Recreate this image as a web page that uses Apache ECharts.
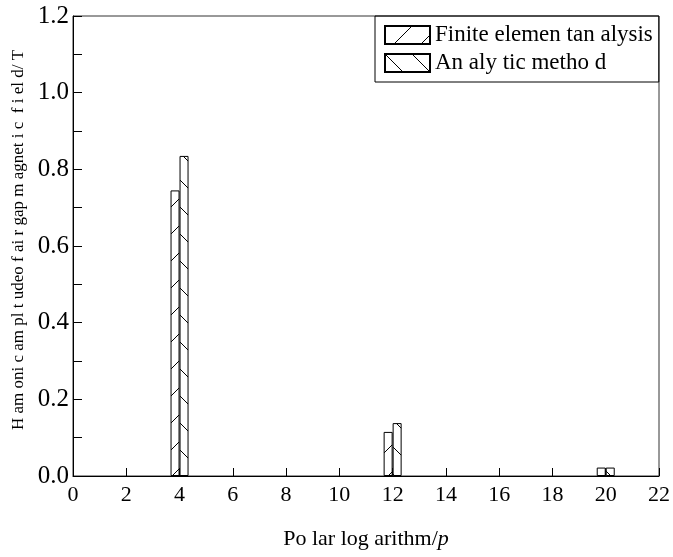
<!DOCTYPE html>
<html>
<head>
<meta charset="utf-8">
<script src="https://cdn.jsdelivr.net/npm/echarts@6/dist/echarts.min.js"></script>
<style>html,body{margin:0;padding:0;background:#fff;}#c{width:673px;height:557px;}</style>
</head>
<body>
<div id="c"></div>
<script>
// Data
var polePairs = [4, 12, 20];
var feaValues = [0.745, 0.115, 0.022];
var analyticValues = [0.835, 0.138, 0.022];
var seriesNames = ['Finite elemen tan alysis', 'An aly tic metho d'];
var xTitle = 'Po lar log arithm/';
var yTitle = 'H am oni c am pl t udeo f ai r gap m agnet i c  f i el d/ T';

function hatch(forward) {
  var s = 27;
  var cv = document.createElement('canvas');
  cv.width = s; cv.height = s;
  var ctx = cv.getContext('2d');
  ctx.fillStyle = '#fff';
  ctx.fillRect(0, 0, s, s);
  ctx.strokeStyle = '#000';
  ctx.lineWidth = 1;
  ctx.beginPath();
  if (forward) {
    ctx.moveTo(-1, s + 1); ctx.lineTo(s + 1, -1);
  } else {
    ctx.moveTo(-1, -1); ctx.lineTo(s + 1, s + 1);
  }
  ctx.stroke();
  return { image: cv, repeat: 'repeat' };
}

var font = "'Liberation Serif', 'Times New Roman', serif";
var chart = echarts.init(document.getElementById('c'));
chart.setOption({
  animation: false,
  backgroundColor: '#fff',
  grid: { left: 73, right: 13, top: 16, bottom: 81, show: true, borderColor: '#333', borderWidth: 1, backgroundColor: 'transparent' },
  legend: {
    left: 375, top: 16,
    orient: 'vertical',
    borderColor: '#000', borderWidth: 1,
    padding: [7, 6, 7, 9],
    icon: 'rect',
    itemWidth: 45, itemHeight: 18, itemGap: 4,
    textStyle: { fontFamily: font, fontSize: 23, color: '#000', lineHeight: 24 },
    data: seriesNames
  },
  xAxis: {
    type: 'value', min: 0, max: 22, interval: 2,
    name: xTitle + '{i|p}',
    nameLocation: 'middle', nameGap: 52,
    nameTextStyle: { fontFamily: font, fontSize: 22, color: '#000',
      rich: { i: { fontStyle: 'italic', fontFamily: font, fontSize: 22, color: '#000' } } },
    axisLine: { lineStyle: { color: '#000', width: 1 } },
    axisTick: { inside: true, length: 8, lineStyle: { color: '#000' } },
    splitLine: { show: false },
    axisLabel: { fontFamily: font, fontSize: 22, color: '#000', margin: 8 }
  },
  yAxis: {
    type: 'value', min: 0, max: 1.2, interval: 0.2,
    name: yTitle,
    nameLocation: 'middle', nameGap: 43,
    nameTextStyle: { fontFamily: font, fontSize: 17, color: '#000', padding: [0, 0, 0, 12] },
    axisLine: { lineStyle: { color: '#000', width: 1 } },
    axisTick: { inside: true, length: 9, lineStyle: { color: '#000' } },
    minorTick: { show: true, splitNumber: 2, length: 9, lineStyle: { color: '#000' } },
    splitLine: { show: false },
    axisLabel: { fontFamily: font, fontSize: 25, color: '#000', margin: 4,
      formatter: function (v) { return v.toFixed(1); } }
  },
  series: [
    {
      name: seriesNames[0], type: 'bar', barWidth: 9, barGap: '0%',
      itemStyle: { color: hatch(true), borderColor: '#000', borderWidth: 1 },
      data: polePairs.map(function (p, i) { return [p, feaValues[i]]; })
    },
    {
      name: seriesNames[1], type: 'bar', barWidth: 9, barGap: '0%',
      itemStyle: { color: hatch(false), borderColor: '#000', borderWidth: 1 },
      data: polePairs.map(function (p, i) { return [p, analyticValues[i]]; })
    }
  ]
});
</script>
</body>
</html>
